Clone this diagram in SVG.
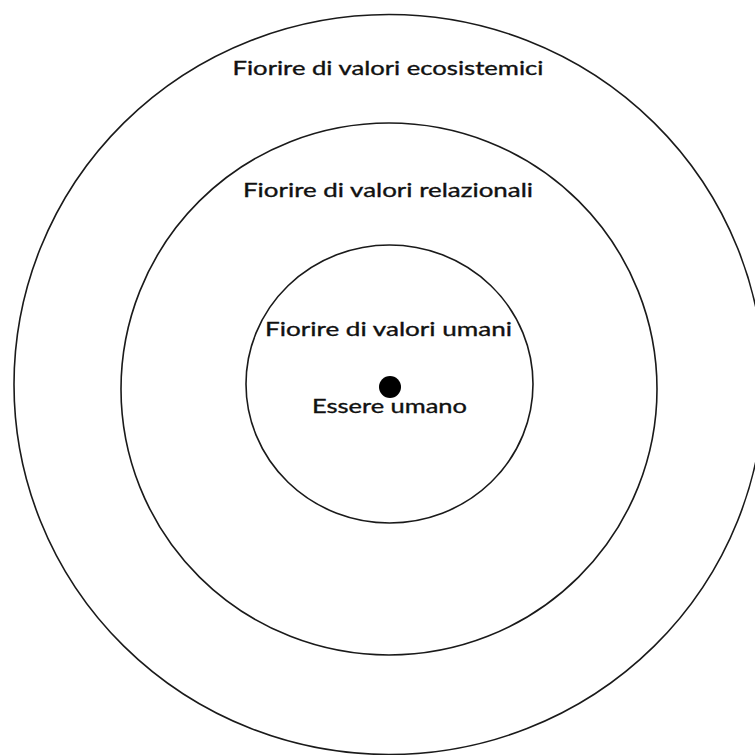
<svg xmlns="http://www.w3.org/2000/svg" width="755" height="755" viewBox="0 0 755 755">
<style>
.ring{fill:none;stroke:#1a1a1a;stroke-width:1.6}
.lbl{font-family:Lato,"Open Sans","Liberation Sans",sans-serif;font-size:19px;fill:#111;stroke:#111;stroke-width:0.35;text-anchor:middle}
</style>
<rect width="755" height="755" fill="#fff"/>
<g id="outer">
<ellipse class="ring" cx="389" cy="384.5" rx="375" ry="370"/>
<text class="lbl" x="388" y="75" textLength="311" lengthAdjust="spacingAndGlyphs">Fiorire di valori ecosistemici</text>
</g>
<g id="middle">
<ellipse class="ring" cx="389" cy="389" rx="268" ry="266"/>
<text class="lbl" x="388" y="197" textLength="290" lengthAdjust="spacingAndGlyphs">Fiorire di valori relazionali</text>
</g>
<g id="inner">
<ellipse class="ring" cx="389.5" cy="384" rx="143.5" ry="139"/>
<text class="lbl" x="388.5" y="336" textLength="247" lengthAdjust="spacingAndGlyphs">Fiorire di valori umani</text>
</g>
<g id="human">
<circle cx="390" cy="387" r="11" fill="#000"/>
<text class="lbl" x="389.5" y="413" textLength="155" lengthAdjust="spacingAndGlyphs">Essere umano</text>
</g>
<g id="connectors"/>
</svg>
